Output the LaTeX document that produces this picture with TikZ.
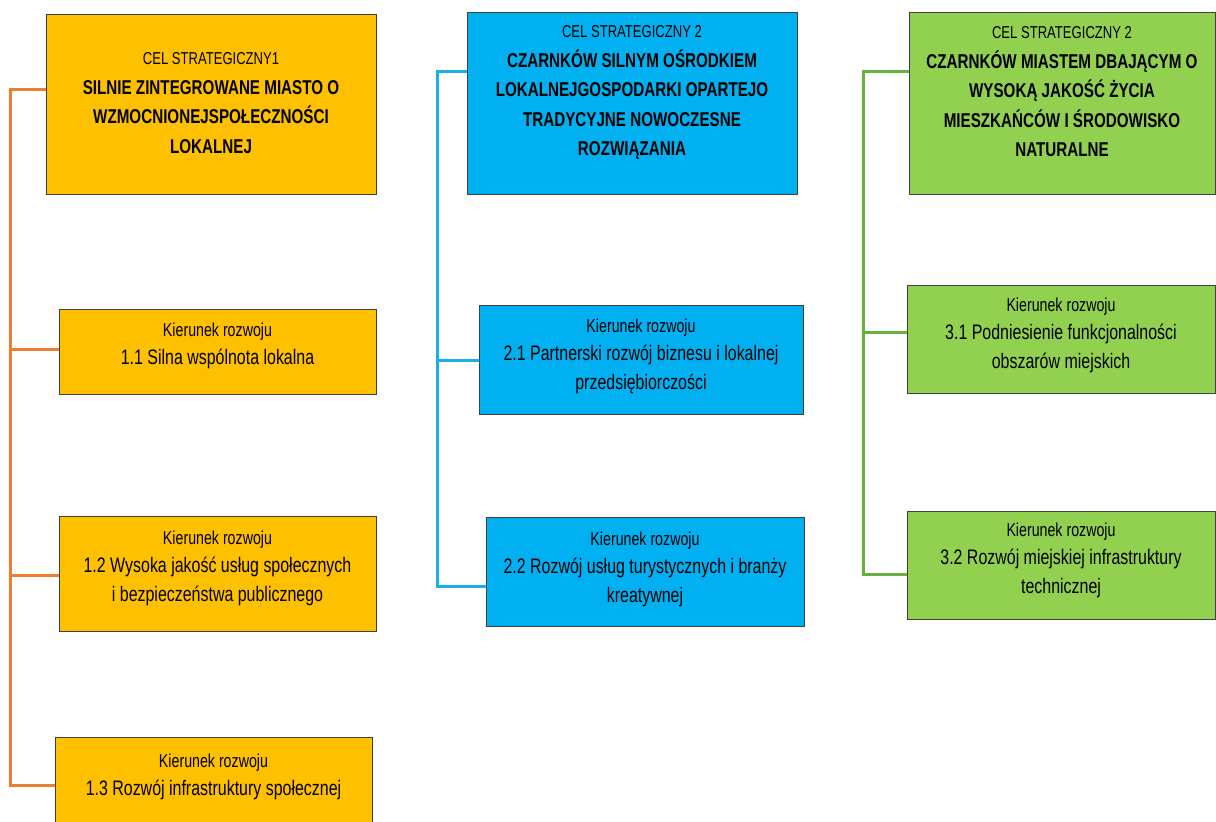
\documentclass[tikz,border=0pt]{standalone}
\usepackage{fontspec}
\setmainfont{Liberation Sans}[FakeStretch=0.76]
\definecolor{cgold}{HTML}{FFC000}
\definecolor{cblue}{HTML}{00B0F0}
\definecolor{cgreen}{HTML}{92D050}
\definecolor{lorange}{HTML}{ED7D31}
\definecolor{lblue}{HTML}{1AAFEA}
\definecolor{lgreen}{HTML}{66B23F}
\definecolor{bord}{HTML}{404040}
\begin{document}
\begin{tikzpicture}[x=1pt,y=-1pt,
  box/.style={draw=bord, line width=0.9pt, anchor=north west, inner sep=0pt, outer sep=0pt},
  ttl/.style={align=center, inner sep=0pt, font=\fontsize{20}{29.5}\selectfont},
  sub/.style={align=center, inner sep=0pt, font=\fontsize{21}{28.5}\selectfont},
  conn/.style={line width=3pt},
  oline/.style={conn, draw=lorange},
  bline/.style={conn, draw=lblue},
  gline/.style={conn, draw=lgreen}]
\useasboundingbox (0,0) rectangle (1216,822);
\clip (0,0) rectangle (1216,822);
% boxes
\node[box, fill=cgold, minimum width=330pt, minimum height=180pt] (b1) at (46,14) {};
\node[box, fill=cblue, minimum width=330pt, minimum height=182pt] (b2) at (467,12) {};
\node[box, fill=cgreen, minimum width=306pt, minimum height=182pt] (b3) at (909,12) {};
\node[box, fill=cgold, minimum width=317pt, minimum height=85pt] (b11) at (59,309) {};
\node[box, fill=cgold, minimum width=317pt, minimum height=115pt] (b12) at (59,516) {};
\node[box, fill=cgold, minimum width=317pt, minimum height=95pt] (b13) at (55,737) {};
\node[box, fill=cblue, minimum width=324pt, minimum height=109pt] (b21) at (479,305) {};
\node[box, fill=cblue, minimum width=318pt, minimum height=109pt] (b22) at (486,517) {};
\node[box, fill=cgreen, minimum width=308pt, minimum height=108pt] (b31) at (907,285) {};
\node[box, fill=cgreen, minimum width=308pt, minimum height=108pt] (b32) at (907,511) {};
% texts
\node[ttl] (t1) at (211,103) {{\fontsize{17.2}{29.5}\selectfont CEL STRATEGICZNY1}\\ \textbf{SILNIE ZINTEGROWANE MIASTO O}\\ \textbf{WZMOCNIONEJSPOŁECZNOŚCI}\\ \textbf{LOKALNEJ}};
\node[ttl] (t2) at (632,93) {{\fontsize{17.2}{29.5}\selectfont CEL STRATEGICZNY 2}\\ \textbf{CZARNKÓW SILNYM OŚRODKIEM}\\ \textbf{LOKALNEJGOSPODARKI OPARTEJO}\\ \textbf{TRADYCYJNE NOWOCZESNE}\\ \textbf{ROZWIĄZANIA}};
\node[ttl] (t3) at (1062,92) {{\fontsize{17.2}{29.5}\selectfont CEL STRATEGICZNY 2}\\ \textbf{CZARNKÓW MIASTEM DBAJĄCYM O}\\ \textbf{WYSOKĄ JAKOŚĆ ŻYCIA}\\ \textbf{MIESZKAŃCÓW I ŚRODOWISKO}\\ \textbf{NATURALNE}};
\node[sub] (t11) at (217.5,346) {{\fontsize{18.7}{28.5}\selectfont Kierunek rozwoju}\\ 1.1 Silna wspólnota lokalna};
\node[sub] (t12) at (217.5,568) {{\fontsize{18.7}{28.5}\selectfont Kierunek rozwoju}\\ 1.2 Wysoka jakość usług społecznych\\ i bezpieczeństwa publicznego};
\node[sub] (t13) at (213.5,777) {{\fontsize{18.7}{28.5}\selectfont Kierunek rozwoju}\\ 1.3 Rozwój infrastruktury społecznej};
\node[sub] (t21) at (641,356) {{\fontsize{18.7}{28.5}\selectfont Kierunek rozwoju}\\ 2.1 Partnerski rozwój biznesu i lokalnej\\ przedsiębiorczości};
\node[sub] (t22) at (645,569) {{\fontsize{18.7}{28.5}\selectfont Kierunek rozwoju}\\ 2.2 Rozwój usług turystycznych i branży\\ kreatywnej};
\node[sub] (t31) at (1061,335) {{\fontsize{18.7}{28.5}\selectfont Kierunek rozwoju}\\ 3.1 Podniesienie funkcjonalności\\ obszarów miejskich};
\node[sub] (t32) at (1061,560) {{\fontsize{18.7}{28.5}\selectfont Kierunek rozwoju}\\ 3.2 Rozwój miejskiej infrastruktury\\ technicznej};
% connectors
\coordinate (oa) at (10,89);
\coordinate (ob) at (10,349);
\coordinate (oc) at (10,575);
\coordinate (od) at (10,785);
\draw[oline] (oa -| b1.west) -- (oa) -- (od) -- (od -| b13.west);
\draw[oline] (ob) -- (ob -| b11.west);
\draw[oline] (oc) -- (oc -| b12.west);
\coordinate (ba) at (437,71);
\coordinate (bb) at (437,360);
\coordinate (bc) at (437,586);
\draw[bline] (ba -| b2.west) -- (ba) -- (bc) -- (bc -| b22.west);
\draw[bline] (bb) -- (bb -| b21.west);
\coordinate (ga) at (863,71);
\coordinate (gb) at (863,332);
\coordinate (gc) at (863,574);
\draw[gline] (ga -| b3.west) -- (ga) -- (gc) -- (gc -| b32.west);
\draw[gline] (gb) -- (gb -| b31.west);
\end{tikzpicture}
\end{document}
